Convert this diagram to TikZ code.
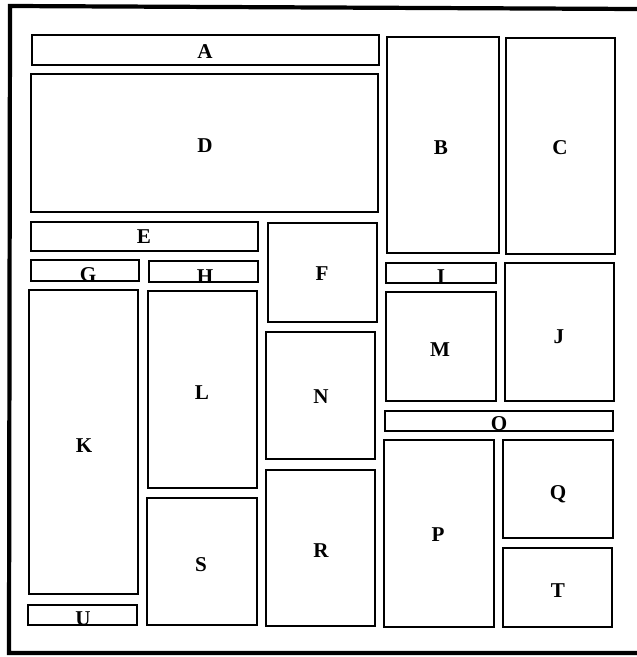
\documentclass[tikz,border=0pt]{standalone}
\usepackage{fontspec}
\setmainfont{Liberation Serif}
\usepackage{tikz}
\usetikzlibrary{positioning}

\begin{document}
\begin{tikzpicture}[x=0.025cm,y=-0.025cm,
  box/.style={draw,line width=1.6pt},
  lab/.style={font=\fontsize{15}{17}\selectfont\bfseries,inner sep=0pt},
  low/.style={lab,anchor=base}]
\useasboundingbox (0,0) rectangle (637,657);
% outer frame, right side cut off
\draw[line width=3pt] (637,9) -- (10,6) -- (9,653) -- (637,653);
% top band
\draw[box] (32,35) rectangle (379,65);
\node[lab] (A) at (205,52) {A};
\draw[box] (31,74) rectangle (378,212);
\node[lab] (D) at (205,146) {D};
\draw[box] (387,37) rectangle (499,253);
\node[lab] (B) at (441,148) {B};
\draw[box] (506,38) rectangle (615,254);
\node[lab] (C) at (560,148) {C};
% left part
\draw[box] (31,222) rectangle (258,251);
\node[lab] (E) at (144,237) {E};
\draw[box] (31,260) rectangle (139,281);
\node[low] (G) at (88,281) {G};
\draw[box] (149,261) rectangle (258,282);
\node[low] (H) at (205,283) {H};
\draw[box] (29,290) rectangle (138,594);
\node[lab] (K) at (84,446) {K};
\draw[box] (28,605) rectangle (137,625);
\node[low] (U) at (83,625) {U};
\draw[box] (148,291) rectangle (257,488);
\node[lab] (L) at (202,393) {L};
\draw[box] (147,498) rectangle (257,625);
\node[lab] (S) at (201,565) {S};
% middle column
\draw[box] (268,223) rectangle (377,322);
\node[lab] (F) at (322,274) {F};
\draw[box] (266,332) rectangle (375,459);
\node[lab] (N) at (321,397) {N};
\draw[box] (266,470) rectangle (375,626);
\node[lab] (R) at (321,551) {R};
% right part
\draw[box] (386,263) rectangle (496,283);
\node[low] (I) at (441,283) {I};
\draw[box] (386,292) rectangle (496,401);
\node[lab] (M) at (440,350) {M};
\draw[box] (505,263) rectangle (614,401);
\node[lab] (J) at (559,337) {J};
\draw[box] (385,411) rectangle (613,431);
\node[low] (O) at (499,430) {O};
\draw[box] (384,440) rectangle (494,627);
\node[lab] (P) at (438,535) {P};
\draw[box] (503,440) rectangle (613,538);
\node[lab] (Q) at (558,494) {Q};
\draw[box] (503,548) rectangle (612,627);
\node[lab] (T) at (558,591) {T};
\end{tikzpicture}
\end{document}
